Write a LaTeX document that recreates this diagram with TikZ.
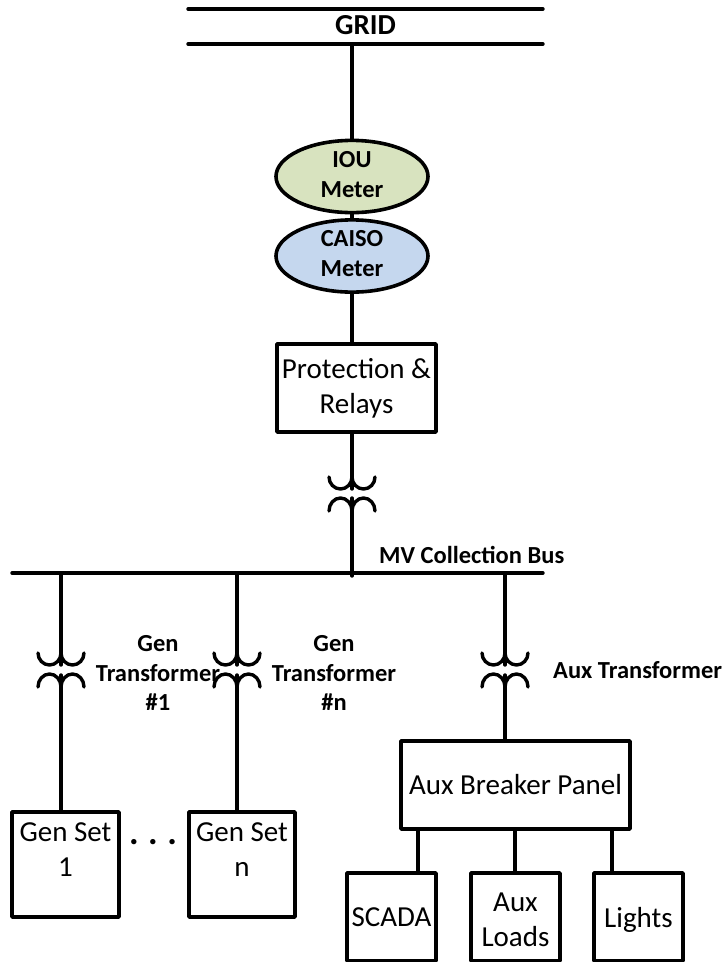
\documentclass[tikz,border=0pt]{standalone}
\usepackage{fontspec}
\setmainfont{Carlito}
\usetikzlibrary{shapes.geometric}
\tikzset{
  wire/.style={line width=3.4pt,line cap=round},
  boxn/.style={draw,line width=3.6pt,line join=round,align=center,inner sep=0pt,font=\fontsize{29}{35}\selectfont},
  meter/.style={draw,ellipse,line width=3.6pt,minimum width=152pt,minimum height=71pt,inner sep=0pt,align=center,text depth=5pt,font=\bfseries\fontsize{24.5}{30}\selectfont},
  lab/.style={align=center,inner sep=0pt,font=\bfseries\fontsize{24.5}{29.5}\selectfont},
}
\newcommand{\xfmr}[2]{%
  \draw[wire] (#1-23,#2) arc[start angle=180,end angle=0,x radius=11.5,y radius=12];
  \draw[wire] (#1,#2) arc[start angle=180,end angle=0,x radius=11.5,y radius=12];
  \draw[wire] (#1-23,#2+34) arc[start angle=180,end angle=360,x radius=11.5,y radius=13];
  \draw[wire] (#1,#2+34) arc[start angle=180,end angle=360,x radius=11.5,y radius=13];
}
\begin{document}
\begin{tikzpicture}[x=1pt,y=-1pt]
\useasboundingbox (0,0) rectangle (725,962);
\coordinate (g1l) at (188,9); \coordinate (g1r) at (543,9);
\coordinate (g2l) at (188,44); \coordinate (g2r) at (543,44);
\coordinate (g2m) at (352,44);
\draw[wire] (g1l)--(g1r);
\draw[wire] (g2l)--(g2r);
\node[lab,font=\bfseries\fontsize{29}{30}\selectfont] (grid) at (365.5,25) {GRID};
\node[meter,fill={rgb,255:red,216;green,227;blue,191}] (iou) at (352,176.5) {IOU\\Meter};
\node[meter,fill={rgb,255:red,197;green,215;blue,238}] (caiso) at (352,256) {CAISO\\Meter};
\node[boxn,minimum width=159pt,minimum height=88pt] (prot) at (356.5,388) {Protection \&\\Relays};
\draw[wire] (g2m)--(iou.north);
\draw[wire] (iou.south)--(caiso.north);
\draw[wire] (caiso.south)--(prot.north -| caiso.south);
\coordinate (bl) at (12,573); \coordinate (br) at (543,573);
\draw[wire] (bl)--(br);
\coordinate (t0a) at (352,489); \coordinate (t0b) at (352,498);
\draw[wire] (prot.south -| t0a)--(t0a);
\draw[wire] (t0b)--(352,576);
\xfmr{352}{477}
\node[lab,anchor=west] (mv) at (379,555) {MV Collection Bus};
% gens
\node[boxn,minimum width=107pt,minimum height=105pt,text depth=29pt] (g1) at (65.5,864.5) {Gen Set\\1};
\node[boxn,minimum width=106pt,minimum height=105pt,text depth=29pt] (gn) at (242,864.5) {Gen Set\\n};
\node[inner sep=0pt,font=\bfseries\fontsize{36}{36}\selectfont] (dots) at (153,842) {.\hspace{9.5pt}.\hspace{9.5pt}.};
\draw[wire] (61,573)--(61,665);
\draw[wire] (61,675)--(g1.north -| 61,675);
\xfmr{61}{653}
\draw[wire] (237,573)--(237,665);
\draw[wire] (237,675)--(gn.north -| 237,675);
\xfmr{237}{653}
\node[lab] (l1) at (158,673) {Gen\\Transformer\\\#1};
\node[lab] (ln) at (334,673) {Gen\\Transformer\\\#n};
% aux
\node[boxn,minimum width=229pt,minimum height=88pt] (aux) at (515.5,785) {Aux Breaker Panel};
\draw[wire] (505,573)--(505,665);
\draw[wire] (505,675)--(aux.north -| 505,675);
\xfmr{505}{653}
\node[lab,anchor=west] (al) at (553,670) {Aux Transformer};
\node[boxn,minimum width=89pt,minimum height=88pt] (sc) at (391.5,917) {SCADA};
\node[boxn,minimum width=89pt,minimum height=88pt,text height=60pt] (al2) at (515.5,917) {Aux\\Loads};
\node[boxn,minimum width=89pt,minimum height=88pt,text height=26pt] (li) at (638.5,917) {Lights};
\draw[wire] (aux.south -| 418,0)--(sc.north -| 418,0);
\draw[wire] (aux.south -| 515,0)--(al2.north -| 515,0);
\draw[wire] (aux.south -| 612,0)--(li.north -| 612,0);
\end{tikzpicture}
\end{document}
